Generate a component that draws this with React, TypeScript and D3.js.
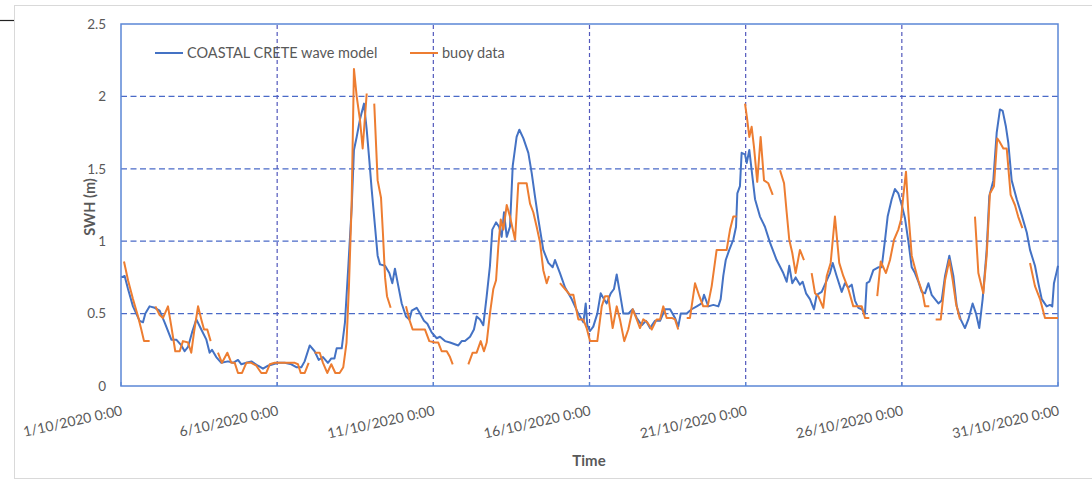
import React, { useEffect, useRef } from 'react';
import * as d3 from 'd3';

// hours since 1/10/2020 0:00 -> SWH (m)
const modelSeries: [number, number][] = [
  [0.3, 0.75], [2.8, 0.76], [5.4, 0.67], [9.2, 0.55], [14.3, 0.45], [16.9, 0.44], [18.7, 0.5], [22, 0.55],
  [25.9, 0.54], [29.7, 0.52], [33.5, 0.44], [38.7, 0.32], [42.5, 0.32], [46.4, 0.28], [48.9, 0.24], [51.5, 0.27],
  [54.6, 0.37], [57.9, 0.46], [61.7, 0.39], [65.6, 0.32], [68.1, 0.23], [69.9, 0.25], [73.2, 0.2], [77.1, 0.16],
  [82.2, 0.17], [86.1, 0.16], [89.9, 0.18], [92.5, 0.15], [96.3, 0.16], [100.2, 0.17], [105.3, 0.14], [109.1, 0.12],
  [113, 0.14], [116.8, 0.15], [120.6, 0.16], [125.8, 0.16], [130.9, 0.15], [134.7, 0.13], [138.6, 0.13], [141.1, 0.17],
  [145, 0.28], [148.8, 0.24], [151.9, 0.18], [155.2, 0.2], [159, 0.16], [161.6, 0.19], [164, 0.19], [165.7, 0.26],
  [169.6, 0.26], [172.1, 0.44], [174.7, 0.83], [177.3, 1.24], [179, 1.63], [181.1, 1.72], [183.6, 1.84], [186.7, 1.95],
  [188.8, 1.77], [190.8, 1.56], [192.6, 1.36], [195.2, 1.1], [197.2, 0.9], [199, 0.84], [202.9, 0.83], [206.2, 0.78],
  [208.5, 0.71], [210.5, 0.81], [213.1, 0.69], [215.7, 0.57], [219, 0.48], [221.6, 0.46], [223.4, 0.52], [227.2, 0.54],
  [229.8, 0.5], [232.8, 0.45], [235.4, 0.43], [238.7, 0.37], [242.6, 0.33], [245.1, 0.34], [249, 0.31], [252.8, 0.3],
  [259.2, 0.28], [261.8, 0.31], [264.3, 0.31], [268.2, 0.34], [271.2, 0.39], [273.3, 0.48], [275.9, 0.46], [278.4, 0.42],
  [281, 0.62], [283.5, 0.83], [285.3, 1.08], [288.2, 1.13], [290.5, 1.1], [292.5, 1.03], [294.3, 1.2], [296.4, 1.03],
  [298.9, 1.1], [301, 1.52], [304, 1.72], [306.1, 1.77], [309.2, 1.71], [313, 1.61], [315.6, 1.47], [318.1, 1.31],
  [320.7, 1.15], [324.5, 0.94], [328.4, 0.85], [331.7, 0.82], [333.5, 0.87], [337.3, 0.78], [341.2, 0.68], [346.3, 0.6],
  [351.4, 0.5], [355.3, 0.44], [357.1, 0.57], [358.3, 0.42], [360.4, 0.38], [362.9, 0.41], [366, 0.5], [368.6, 0.64],
  [371.1, 0.6], [373.2, 0.57], [376.3, 0.64], [378.8, 0.67], [380.9, 0.77], [383.4, 0.64], [386, 0.5], [389.8, 0.5],
  [393.2, 0.53], [396.3, 0.47], [400.1, 0.42], [403.4, 0.45], [406.5, 0.4], [410.3, 0.45], [414.2, 0.45], [418, 0.53],
  [421.9, 0.53], [425.7, 0.47], [428.2, 0.41], [430.1, 0.5], [434.7, 0.5], [438.5, 0.53], [442.4, 0.55], [446.2, 0.57],
  [448, 0.63], [451.3, 0.55], [455.2, 0.56], [459, 0.55], [460.8, 0.6], [462.8, 0.76], [464.7, 0.87], [467.4, 0.94],
  [470.5, 1.01], [472.6, 1.1], [473.6, 1.33], [475.6, 1.38], [476.9, 1.61], [479.5, 1.6], [480.8, 1.54], [482.8, 1.63],
  [484.6, 1.49], [487.2, 1.29], [491, 1.17], [494.8, 1.1], [498.7, 0.99], [503.8, 0.87], [508.9, 0.78], [511.5, 0.72],
  [513.5, 0.83], [515.8, 0.71], [518.4, 0.75], [521.7, 0.7], [523.8, 0.72], [526.4, 0.64], [529.4, 0.6], [532.5, 0.53],
  [534.6, 0.63], [538.4, 0.65], [542.3, 0.73], [544.8, 0.78], [546.9, 0.85], [549.9, 0.76], [553.8, 0.65], [556.3, 0.71],
  [558.9, 0.68], [561.5, 0.7], [564, 0.59], [566.6, 0.54], [569.2, 0.53], [571.7, 0.5], [573, 0.71], [575, 0.72],
  [578.1, 0.8], [581.9, 0.82], [584.5, 0.82], [587.1, 1.01], [589.1, 1.17], [592.2, 1.29], [594.7, 1.36], [597.3, 1.33],
  [599.9, 1.25], [602.4, 1.16], [605, 1.0], [607.6, 0.82], [610.1, 0.78], [612.7, 0.72], [615.3, 0.65], [617.8, 0.64],
  [620.4, 0.71], [622.9, 0.63], [625.5, 0.6], [628.1, 0.57], [630.6, 0.59], [633.2, 0.76], [636.5, 0.9], [639.6, 0.76],
  [642.2, 0.55], [645.2, 0.46], [648.5, 0.4], [651.1, 0.46], [654.4, 0.57], [657, 0.5], [659.5, 0.4], [662.1, 0.6],
  [665.2, 0.94], [667.2, 1.31], [670.3, 1.42], [672.9, 1.75], [675.4, 1.91], [677.5, 1.9], [680, 1.79], [681.8, 1.68],
  [684.4, 1.42], [688.3, 1.29], [692.1, 1.18], [696, 1.06], [698.5, 0.94], [702.3, 0.83], [704.9, 0.71], [707.5, 0.6],
  [711.3, 0.55], [713.8, 0.56], [715.6, 0.55], [716.9, 0.71], [719, 0.79], [720, 0.83],
];

// buoy record, null = missing data (gap in the line)
const buoySeries: ([number, number] | null)[] = [
  [2.3, 0.86], [5.4, 0.73], [9.2, 0.6], [13.1, 0.48], [15.6, 0.39], [17.7, 0.31], [22, 0.31], null,
  [26.4, 0.55], [29.7, 0.49], [32.3, 0.47], [36.1, 0.55], [38.7, 0.41], [41.7, 0.24], [45.1, 0.24], [47.6, 0.31],
  [51.5, 0.3], [54, 0.23], [56.1, 0.37], [59.2, 0.55], [61.7, 0.46], [63.8, 0.39], [66.3, 0.39], [68.9, 0.31], null,
  [74.5, 0.23], [77.6, 0.16], [81.7, 0.23], [84.8, 0.16], [87.4, 0.16], [89.9, 0.09], [93, 0.09], [96.3, 0.16],
  [100.1, 0.16], [104, 0.14], [107.8, 0.09], [111.6, 0.09], [114.3, 0.15], [118.1, 0.16], [123.2, 0.16], [128.3, 0.16],
  [133.5, 0.16], [136, 0.15], [138.1, 0.09], [141.2, 0.09], [144.2, 0.16], null,
  [148.8, 0.23], [152.7, 0.23], [155.2, 0.16], [158.5, 0.09], [161.6, 0.15], [164.7, 0.09], [168, 0.09], [170.8, 0.13],
  [173.3, 0.3], [175.2, 0.7], [177.2, 1.25], [179, 2.19], [181.1, 2.0], [183.6, 1.84], [185.7, 1.64], [188.8, 2.02], null,
  [194.6, 1.95], [197.2, 1.42], [199.8, 1.3], [201.3, 1.05], [202.9, 0.75], [204.4, 0.62], [207.2, 0.54], null,
  [219, 0.55], [221.5, 0.46], [224.1, 0.39], [227.2, 0.39], [231.1, 0.39], [233.6, 0.39], [236.9, 0.31], [241.3, 0.3],
  [243.8, 0.3], [246.4, 0.24], [250.3, 0.24], [252.8, 0.2], [254.9, 0.15], null,
  [266.9, 0.15], [270.2, 0.23], [273.3, 0.23], [276.4, 0.31], [278.9, 0.24], [281, 0.3], [283.5, 0.5], [286.1, 0.67],
  [288.2, 0.73], [289.9, 0.96], [291.8, 1.15], [293.8, 1.08], [296.4, 1.25], [298.9, 1.17], [302.8, 1.01], [305.3, 1.4],
  [311.7, 1.4], [314.3, 1.26], [316.8, 1.2], [319.4, 1.1], [322, 0.99], [324.5, 0.8], [327.1, 0.71], [328.9, 0.76], null,
  [337.3, 0.71], [341.2, 0.67], [345, 0.63], [347.6, 0.63], [351.4, 0.46], [355.2, 0.46], [357.8, 0.4], [360.4, 0.31],
  [366, 0.31], [369.4, 0.55], [371.9, 0.62], [374.4, 0.62], [377.8, 0.4], [380.9, 0.55], [383.4, 0.46], [386.7, 0.31],
  [389.8, 0.39], [393.2, 0.53], [396.3, 0.46], [398.8, 0.4], [401.3, 0.46], [404.4, 0.44], [407.8, 0.39], [411.6, 0.46],
  [414.2, 0.46], [416.7, 0.55], [419.3, 0.47], [423.2, 0.47], [425.7, 0.46], [428.2, 0.39], null,
  [434.7, 0.47], [437.2, 0.47], [441.1, 0.71], [444.4, 0.62], [447.4, 0.55], [450.8, 0.55], [453.9, 0.69], [457.7, 0.94],
  [461.6, 0.94], [465.4, 0.94], [468, 1.08], [470.5, 1.17], [473.1, 1.17], null,
  [479.5, 1.95], [481.2, 1.84], [482.8, 1.72], [484.6, 1.79], [486.4, 1.65], [488.9, 1.41], [491.5, 1.72], [494.1, 1.42],
  [497.4, 1.4], [500.8, 1.32], null,
  [506.4, 1.49], [509.5, 1.4], [511.5, 1.2], [513.5, 1.01], [515.8, 0.92], [518.4, 0.78], [521.7, 0.94], [524.8, 0.87], null,
  [530.7, 0.78], [533.3, 0.64], [535.8, 0.62], [539.6, 0.54], [542.3, 0.76], [545.3, 0.85], [548.6, 1.17], [551.9, 0.85],
  [555, 0.76], [558.9, 0.67], [562.7, 0.55], [566.5, 0.55], [569.2, 0.55], [571.7, 0.47], [575, 0.47], null,
  [581.1, 0.62], [583.8, 0.86], [587.8, 0.78], [590.9, 0.87], [594, 1.01], [597.3, 1.08], [599.4, 1.15], [601.1, 1.31],
  [603.2, 1.48], [605, 1.2], [607.6, 0.9], [609.3, 0.84], [612.6, 0.73], [616, 0.64], [617.8, 0.55], [621.1, 0.55], null,
  [626, 0.46], [629.9, 0.46], [633.2, 0.73], [636.5, 0.87], [639.1, 0.73], [641.6, 0.57], [644.7, 0.46], null,
  [656.2, 1.17], [658.8, 0.78], [662.6, 0.64], [665.2, 0.9], [667.7, 1.33], [670.8, 1.38], [673.3, 1.71], [674.9, 1.69],
  [678, 1.64], [680.6, 1.64], [683.6, 1.32], [686.9, 1.25], [689.4, 1.17], [692.6, 1.09], null,
  [698.5, 0.85], [702.3, 0.69], [706.2, 0.6], [710, 0.47], [713.8, 0.47], [720, 0.47],
];

const xTickHours = [0, 120, 240, 360, 480, 600, 720];
const xTickLabels = ['1/10/2020 0:00', '6/10/2020 0:00', '11/10/2020 0:00', '16/10/2020 0:00',
  '21/10/2020 0:00', '26/10/2020 0:00', '31/10/2020 0:00'];
const yTicks = [0, 0.5, 1, 1.5, 2, 2.5];
const seriesNames = ['COASTAL CRETE wave model', 'buoy data'];

const width = 1092;
const height = 483;
const margin = { left: 121, right: 34, top: 24, bottom: 97 };
const FONT = 'Lato, "Open Sans", sans-serif';
const TEXT = '#595959';
const BLUE = '#4472c4';
const ORANGE = '#ed7d31';

const App = () => {
  const chartRef = useRef(null);

  useEffect(() => {
    const svg = d3.select(chartRef.current);
    svg.selectAll('*').remove();

    const x = d3.scaleLinear().domain([0, 720]).range([margin.left, width - margin.right]);
    const y = d3.scaleLinear().domain([0, 2.5]).range([height - margin.bottom, margin.top]);
    const [x0, x1] = x.range();
    const [y0, y1] = y.range();

    // chart frame
    svg.append('rect').attr('x', 14.5).attr('y', 5.5).attr('width', 1100).attr('height', 473)
      .attr('fill', '#fff').attr('stroke', '#d9d9d9');
    svg.append('line').attr('x1', 0).attr('x2', 14).attr('y1', 20.5).attr('y2', 20.5)
      .attr('stroke', '#222').attr('stroke-width', 1.2);

    // gridlines
    svg.append('g').selectAll('line').data(yTicks.filter(t => t > 0 && t < 2.5)).join('line')
      .attr('x1', x0).attr('x2', x1).attr('y1', d => y(d)).attr('y2', d => y(d))
      .attr('stroke', '#4a6ac8').attr('stroke-width', 1.2).attr('stroke-dasharray', '6,3.5');
    svg.append('g').selectAll('line').data(xTickHours.slice(1, -1)).join('line')
      .attr('x1', d => x(d)).attr('x2', d => x(d)).attr('y1', y0).attr('y2', y1)
      .attr('stroke', '#5258bc').attr('stroke-width', 1.2).attr('stroke-dasharray', '4,3');

    // plot border
    svg.append('rect').attr('x', x0).attr('y', y1).attr('width', x1 - x0).attr('height', y0 - y1)
      .attr('fill', 'none').attr('stroke', '#5b87d6').attr('stroke-width', 1.5);
    svg.append('g').selectAll('line').data(xTickHours).join('line')
      .attr('x1', d => x(d)).attr('x2', d => x(d)).attr('y1', y0).attr('y2', y0 - 4)
      .attr('stroke', '#5b87d6').attr('stroke-width', 1.2);

    // lines
    const line = d3.line<[number, number] | null>()
      .defined(d => d !== null)
      .x(d => x(d![0]))
      .y(d => y(d![1]));
    svg.append('path').datum(modelSeries).attr('d', line as any)
      .attr('fill', 'none').attr('stroke', BLUE).attr('stroke-width', 2).attr('stroke-linejoin', 'round');
    svg.append('path').datum(buoySeries).attr('d', line)
      .attr('fill', 'none').attr('stroke', ORANGE).attr('stroke-width', 2).attr('stroke-linejoin', 'round');

    // y labels
    svg.append('g').selectAll('text').data(yTicks).join('text')
      .attr('x', 106).attr('y', d => y(d)).attr('dy', '0.35em').attr('text-anchor', 'end')
      .attr('font-family', FONT).attr('font-size', 13.5).attr('fill', TEXT)
      .text(d => String(d));

    // x labels, tilted
    svg.append('g').selectAll('text').data(xTickHours).join('text')
      .attr('transform', d => `translate(${x(d) + 2},${y0 + 29}) rotate(-12.5)`)
      .attr('text-anchor', 'end')
      .attr('font-family', FONT).attr('font-size', 14).attr('fill', TEXT)
      .text((d, i) => xTickLabels[i]);

    // axis titles
    svg.append('text').attr('x', 589).attr('y', 466).attr('text-anchor', 'middle')
      .attr('font-family', FONT).attr('font-weight', 'bold').attr('font-size', 15).attr('fill', TEXT)
      .text('Time');
    svg.append('text').attr('transform', 'translate(95,207) rotate(-90)').attr('text-anchor', 'middle')
      .attr('font-family', FONT).attr('font-weight', 'bold').attr('font-size', 14.5).attr('fill', TEXT)
      .text('SWH (m)');

    // legend
    const legend = [
      { name: seriesNames[0], color: BLUE, x: 155 },
      { name: seriesNames[1], color: ORANGE, x: 410 },
    ];
    const lg = svg.append('g').selectAll('g').data(legend).join('g')
      .attr('transform', d => `translate(${d.x},53)`);
    lg.append('line').attr('x1', 0).attr('x2', 28).attr('stroke', d => d.color).attr('stroke-width', 2);
    lg.append('text').attr('x', 32).attr('dy', '0.35em')
      .attr('font-family', FONT).attr('font-size', 14.5).attr('fill', TEXT)
      .text(d => d.name);
  });

  return (
    <div style={{ position: 'absolute', left: 0, top: 0 }}>
      <svg viewBox={`0 0 ${width} ${height}`} width={width} height={height} ref={chartRef} style={{ display: 'block' }} />
    </div>
  );
};

export default App;
